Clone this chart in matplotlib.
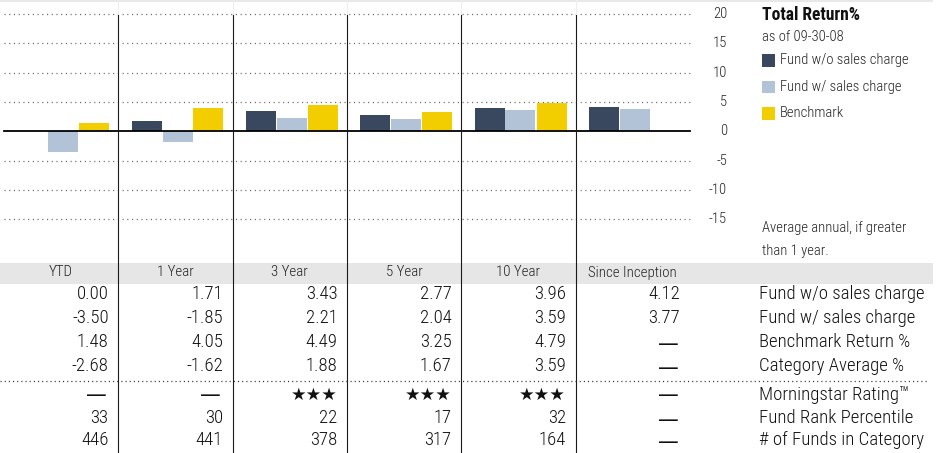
import numpy as np
import matplotlib
matplotlib.use("Agg")
import matplotlib.pyplot as plt
from matplotlib import transforms
from matplotlib.font_manager import fontManager, FontProperties

# ---------------- data ----------------
periods = ["YTD", "1 Year", "3 Year", "5 Year", "10 Year", "Since Inception"]
fund_wo = [0.00, 1.71, 3.43, 2.77, 3.96, 4.12]
fund_w = [-3.50, -1.85, 2.21, 2.04, 3.59, 3.77]
benchmark = [1.48, 4.05, 4.49, 3.25, 4.79, np.nan]
category_avg = [-2.68, -1.62, 1.88, 1.67, 3.59, np.nan]
rating = [0, 0, 3, 3, 3, 0]
rank_pct = [33, 30, 22, 17, 32, None]
n_funds = [446, 441, 378, 317, 164, None]
y_ticks = [20, 15, 10, 5, 0, -5, -10, -15]
series_names = ["Fund w/o sales charge", "Fund w/ sales charge", "Benchmark"]
row_labels = ["Fund w/o sales charge", "Fund w/ sales charge", "Benchmark Return %",
              "Category Average %", "Morningstar Rating\u2122", "Fund Rank Percentile",
              "# of Funds in Category"]

# ---------------- style ----------------
C_DARK = "#39475F"
C_LIGHT = "#B2C3D7"
C_YEL = "#F2CE00"
plt.rcParams["lines.scale_dashes"] = False


def pick_font(bold=False):
    want_w = 700 if bold else 300
    names = {f.name for f in fontManager.ttflist}
    for cand in ["Liberation Sans Narrow", "Roboto Condensed", "Open Sans Condensed",
                 "Noto Sans Condensed", "Arial Narrow", "Nimbus Sans Narrow"]:
        if cand in names:
            return FontProperties(family=cand, weight=want_w)
    cands = []
    for f in fontManager.ttflist:
        st = str(f.stretch).lower()
        if ("condensed" in st and "extra" not in st and "ultra" not in st) or "narrow" in f.name.lower():
            if f.style == "normal":
                w = f.weight if isinstance(f.weight, int) else (700 if "bold" in str(f.weight) else 400)
                cands.append((abs(w - want_w), "semi" in st, f.fname))
    if cands:
        cands.sort()
        return FontProperties(fname=cands[0][2])
    for cand in ["Roboto", "Liberation Sans", "DejaVu Sans"]:
        if cand in names:
            return FontProperties(family=cand, weight="bold" if bold else "normal")
    return FontProperties(weight="bold" if bold else "normal")


FP = pick_font(False)
FPB = pick_font(True)
FPD = FontProperties(family="DejaVu Sans")

W, H = 939, 453
fig = plt.figure(figsize=(W / 100, H / 100), dpi=100)
renderer = fig.canvas.get_renderer()


def fit_size(s, fp, target_px, base=10.0):
    t = fig.text(0, 0, s, fontproperties=fp, fontsize=base)
    w = t.get_window_extent(renderer).width
    t.remove()
    return base * target_px / w


S_LEG = fit_size("Fund w/o sales charge", FP, 129)
S_TAB = fit_size("Fund w/o sales charge", FP, 165)
S_HDR = fit_size("Since Inception", FP, 88)
S_TTL = fit_size("Total Return%", FPB, 98)
S_DASH = fit_size("\u2014", FPD, 20.5)
S_STAR = fit_size("\u2605\u2605\u2605", FPD, 47)


def fp(size, bold=False):
    p = (FPB if bold else FP).copy()
    p.set_size(size)
    return p


# chart axes: x px 4..690, y px 14 (20) .. 219 (-15)
top_px, bot_px = 14.0, 219.5
ax = fig.add_axes([4 / W, 1 - bot_px / H, 686 / W, (bot_px - top_px) / H])
ax.patch.set_alpha(0)
ax.set_xlim(-0.5, 5.5)
ax.set_ylim(-15, 20)
ax.axis("off")

# overlay axes in pixel coords
ov = fig.add_axes([0, 0, 1, 1], zorder=3)
ov.set_xlim(0, W)
ov.set_ylim(H, 0)
ov.axis("off")

x = np.arange(len(periods))
colw = 686 / 6.0
bw = 30 / colw
offs = [-29 / colw, 2 / colw, 33 / colw]
for vals, off, c in zip([fund_wo, fund_w, benchmark], offs, [C_DARK, C_LIGHT, C_YEL]):
    ax.bar(x + off, vals, width=bw, color=c, linewidth=0, zorder=2)

# grid lines
for t in y_ticks:
    if t == 0:
        ax.axhline(0, color="black", lw=1.3, zorder=4, clip_on=False)
    else:
        ax.axhline(t, color="#666666", lw=0.9, dashes=(0.8, 2.6), zorder=1, clip_on=False)

# y tick labels
bt = transforms.blended_transform_factory(ov.transData, ax.transData)
for t in y_ticks:
    ov.text(727, t, f"{t}", transform=bt, ha="right", va="center",
            fontproperties=fp(S_LEG), color="#222222")

# column separators
xt = transforms.blended_transform_factory(ax.transData, ov.transData)
for k in range(1, 6):
    ov.plot([k - 0.5, k - 0.5], [15, H], transform=xt, color="#1a1a1a", lw=0.8, zorder=5)
    ov.plot([k - 0.5, k - 0.5], [0, 15], transform=xt, color="#eeeeee", lw=0.8, zorder=1)
ov.fill_between([0, 933], [0, 0], [2.2, 2.2], color="#e8e8e8", lw=0, zorder=0)

# legend
ov.text(762, 15, "Total Return%", fontproperties=fp(S_TTL, True), ha="left", va="center",
        color="#111111")
ov.text(762, 37, "as of 09-30-08", fontproperties=fp(S_LEG), ha="left", va="center",
        color="#222222")
for i, (nm, c) in enumerate(zip(series_names, [C_DARK, C_LIGHT, C_YEL])):
    yc = 60 + i * 26.5
    ov.add_patch(plt.Rectangle((762, yc - 6), 12.5, 12.5, color=c, lw=0))
    ov.text(780, yc, nm, fontproperties=fp(S_LEG), ha="left", va="center", color="#222222")
ov.text(762, 228, "Average annual, if greater", fontproperties=fp(S_LEG), ha="left",
        va="center", color="#222222")
ov.text(762, 251, "than 1 year.", fontproperties=fp(S_LEG), ha="left", va="center",
        color="#222222")

# table header band
ov.add_patch(plt.Rectangle((0, 262.5), 933, 21, color="#e6e6e6", lw=0, zorder=0))
for i, p in enumerate(periods):
    ov.text(i, 272.5, p, transform=xt, ha="center", va="center", fontproperties=fp(S_HDR),
            color="#222222")

# table rows
row_y = [294, 318, 342, 366, 395, 418, 440]
rx = 0.415
dash_rx = 0.40


def put(i, y, v, dec=True):
    if v is None or (isinstance(v, float) and np.isnan(v)):
        ov.text(i + dash_rx, y + 2.0, "\u2014", transform=xt, ha="right", va="center",
                fontproperties=FPD, fontsize=S_DASH, color="#111111")
    else:
        s = f"{v:.2f}" if dec else f"{v}"
        ov.text(i + rx, y, s, transform=xt, ha="right", va="center",
                fontproperties=fp(S_TAB), color="#111111")


rows = [fund_wo, fund_w, list(benchmark), list(category_avg)]
for r, vals in enumerate(rows):
    for i, v in enumerate(vals):
        put(i, row_y[r], v)
for i, s in enumerate(rating):
    if s:
        ov.text(i + rx, row_y[4], "\u2605" * s, transform=xt, ha="right", va="center",
                fontproperties=FPD, fontsize=S_STAR, color="#111111")
    else:
        put(i, row_y[4] - 1.5, None)
for r, vals in zip([5, 6], [rank_pct, n_funds]):
    for i, v in enumerate(vals):
        put(i, row_y[r], v, dec=False)
for r, lab in enumerate(row_labels):
    ov.text(759, row_y[r], lab, ha="left", va="center", fontproperties=fp(S_TAB),
            color="#111111")

# dotted separator
ov.plot([0, 927], [381, 381], color="#333333", lw=0.9, dashes=(0.8, 2.2))

fig.savefig("out.png", dpi=100)
